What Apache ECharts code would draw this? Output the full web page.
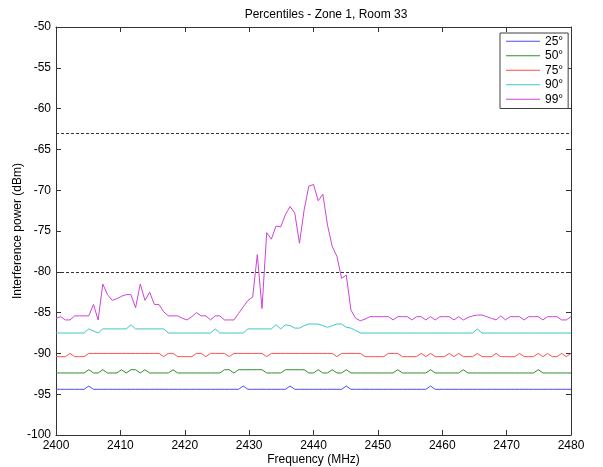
<!DOCTYPE html>
<html>
<head>
<meta charset="utf-8">
<script src="https://cdn.jsdelivr.net/npm/echarts@6/dist/echarts.min.js"></script>
<style>
  html, body { margin: 0; padding: 0; background: #fff; }
  #chart { width: 603px; height: 467px; }
</style>
</head>
<body>
<div id="chart"></div>
<script>
// Sweep frequencies (MHz), 111 bins across the 2.4 GHz band
const freqs = [
  2400, 2400.73, 2401.45, 2402.18, 2402.91, 2403.64, 2404.36, 2405.09, 2405.82, 2406.55, 2407.27,
  2408, 2408.73, 2409.45, 2410.18, 2410.91, 2411.64, 2412.36, 2413.09, 2413.82, 2414.55, 2415.27,
  2416, 2416.73, 2417.45, 2418.18, 2418.91, 2419.64, 2420.36, 2421.09, 2421.82, 2422.55, 2423.27,
  2424, 2424.73, 2425.45, 2426.18, 2426.91, 2427.64, 2428.36, 2429.09, 2429.82, 2430.55, 2431.27,
  2432, 2432.73, 2433.45, 2434.18, 2434.91, 2435.64, 2436.36, 2437.09, 2437.82, 2438.55, 2439.27,
  2440, 2440.73, 2441.45, 2442.18, 2442.91, 2443.64, 2444.36, 2445.09, 2445.82, 2446.55, 2447.27,
  2448, 2448.73, 2449.45, 2450.18, 2450.91, 2451.64, 2452.36, 2453.09, 2453.82, 2454.55, 2455.27,
  2456, 2456.73, 2457.45, 2458.18, 2458.91, 2459.64, 2460.36, 2461.09, 2461.82, 2462.55, 2463.27,
  2464, 2464.73, 2465.45, 2466.18, 2466.91, 2467.64, 2468.36, 2469.09, 2469.82, 2470.55, 2471.27,
  2472, 2472.73, 2473.45, 2474.18, 2474.91, 2475.64, 2476.36, 2477.09, 2477.82, 2478.55, 2479.27,
  2480
];

// Interference power percentiles (dBm), one value per bin
const p25 = [
  -94.4, -94.4, -94.4, -94.4, -94.4, -94.4, -94.4, -94.0, -94.4, -94.4, -94.4,
  -94.4, -94.4, -94.4, -94.4, -94.4, -94.4, -94.4, -94.4, -94.4, -94.4, -94.4,
  -94.4, -94.4, -94.4, -94.4, -94.4, -94.4, -94.4, -94.4, -94.4, -94.4, -94.4,
  -94.4, -94.4, -94.4, -94.4, -94.4, -94.4, -94.4, -94.0, -94.4, -94.4, -94.4,
  -94.4, -94.4, -94.4, -94.4, -94.4, -94.4, -94.0, -94.4, -94.4, -94.4, -94.4,
  -94.4, -94.4, -94.4, -94.4, -94.4, -94.4, -94.4, -94.0, -94.4, -94.4, -94.4,
  -94.4, -94.4, -94.4, -94.4, -94.4, -94.4, -94.4, -94.4, -94.4, -94.4, -94.4,
  -94.4, -94.4, -94.4, -94.0, -94.4, -94.4, -94.4, -94.4, -94.4, -94.4, -94.4,
  -94.4, -94.4, -94.4, -94.4, -94.4, -94.4, -94.4, -94.4, -94.4, -94.4, -94.4,
  -94.4, -94.4, -94.4, -94.4, -94.4, -94.4, -94.4, -94.4, -94.4, -94.4, -94.4,
  -94.4
];

const p50 = [
  -92.4, -92.4, -92.4, -92.4, -92.4, -92.4, -92.4, -92.0, -92.4, -92.4, -92.0,
  -92.4, -92.4, -92.4, -92.0, -92.4, -92.0, -92.0, -92.4, -92.0, -92.4, -92.4,
  -92.4, -92.4, -92.4, -92.0, -92.4, -92.4, -92.4, -92.4, -92.4, -92.4, -92.4,
  -92.4, -92.4, -92.4, -92.0, -92.0, -92.4, -92.0, -92.0, -92.0, -92.0, -92.0,
  -92.0, -92.4, -92.4, -92.4, -92.4, -92.0, -92.0, -92.0, -92.0, -92.0, -92.4,
  -92.4, -92.0, -92.4, -92.4, -92.0, -92.4, -92.4, -92.0, -92.4, -92.4, -92.4,
  -92.4, -92.4, -92.4, -92.4, -92.4, -92.4, -92.4, -92.0, -92.4, -92.4, -92.4,
  -92.4, -92.4, -92.4, -92.0, -92.4, -92.4, -92.4, -92.4, -92.4, -92.4, -92.0,
  -92.4, -92.4, -92.4, -92.4, -92.4, -92.4, -92.4, -92.4, -92.4, -92.4, -92.4,
  -92.4, -92.4, -92.4, -92.4, -92.0, -92.4, -92.4, -92.4, -92.4, -92.4, -92.4,
  -92.4
];

const p75 = [
  -90.4, -90.4, -90.4, -90.0, -90.4, -90.4, -90.4, -90.0, -90.0, -90.0, -90.0,
  -90.0, -90.0, -90.0, -90.0, -90.0, -90.0, -90.0, -90.0, -90.0, -90.0, -90.0,
  -90.0, -90.4, -90.0, -90.0, -90.4, -90.4, -90.4, -90.4, -90.0, -90.0, -90.4,
  -90.0, -90.0, -90.0, -90.0, -90.4, -90.0, -90.0, -90.0, -90.0, -90.0, -90.0,
  -90.0, -90.4, -90.0, -90.0, -90.0, -90.0, -90.0, -90.0, -90.0, -90.0, -90.0,
  -90.0, -90.0, -90.0, -90.0, -90.0, -90.4, -90.0, -90.0, -90.0, -90.0, -90.0,
  -90.4, -90.4, -90.4, -90.4, -90.4, -90.0, -90.0, -90.0, -90.4, -90.4, -90.4,
  -90.4, -90.0, -90.4, -90.0, -90.4, -90.4, -90.4, -90.0, -90.4, -90.0, -90.4,
  -90.4, -90.4, -90.0, -90.4, -90.4, -90.4, -90.0, -90.4, -90.4, -90.4, -90.4,
  -90.0, -90.4, -90.4, -90.4, -90.0, -90.4, -90.0, -90.4, -90.4, -90.0, -90.4,
  -90.0
];

const p90 = [
  -87.5, -87.5, -87.5, -87.5, -87.5, -87.5, -87.5, -87.0, -87.25, -87.5, -87.0,
  -87.0, -87.0, -87.0, -87.0, -87.0, -86.5, -87.0, -87.0, -87.0, -87.0, -87.0,
  -87.0, -87.0, -87.5, -87.5, -87.5, -87.5, -87.5, -87.5, -87.5, -87.5, -87.5,
  -87.5, -87.0, -87.5, -87.5, -87.5, -87.5, -87.5, -87.5, -87.0, -87.0, -87.0,
  -87.0, -87.0, -87.0, -86.5, -87.0, -86.5, -86.6, -86.9, -86.9, -86.6, -86.4,
  -86.4, -86.4, -86.6, -86.8, -86.6, -86.4, -86.4, -86.8, -86.9, -87.2, -87.5,
  -87.5, -87.5, -87.5, -87.5, -87.5, -87.5, -87.5, -87.5, -87.5, -87.5, -87.5,
  -87.5, -87.5, -87.5, -87.5, -87.5, -87.5, -87.5, -87.5, -87.5, -87.5, -87.5,
  -87.5, -87.5, -87.0, -87.5, -87.5, -87.5, -87.5, -87.5, -87.5, -87.5, -87.5,
  -87.5, -87.5, -87.5, -87.5, -87.5, -87.5, -87.5, -87.5, -87.5, -87.5, -87.5,
  -87.5
];

const p99 = [
  -85.7, -85.5, -85.9, -85.9, -85.4, -85.4, -85.4, -85.4, -84.0, -85.9, -81.5,
  -82.8, -83.5, -83.3, -83.0, -82.8, -82.8, -84.4, -81.5, -83.5, -82.5, -84.0,
  -84.0, -84.9, -85.4, -85.4, -85.4, -85.7, -85.9, -85.5, -85.0, -85.4, -85.4,
  -85.9, -85.4, -85.4, -85.9, -85.9, -85.9, -85.1, -84.3, -83.5, -83.1, -77.9,
  -84.5, -75.2, -76.0, -74.4, -74.5, -73.0, -72.0, -72.8, -76.5, -72.4, -69.5,
  -69.3, -71.3, -70.5, -74.3, -76.9, -78.1, -80.8, -80.4, -84.7, -85.7, -86.0,
  -85.8, -85.5, -85.5, -85.5, -85.5, -85.5, -85.9, -85.5, -85.5, -85.5, -85.9,
  -85.5, -85.5, -85.9, -85.5, -85.9, -85.5, -85.5, -85.5, -85.9, -85.5, -85.9,
  -85.6, -85.4, -85.3, -85.3, -85.5, -85.7, -85.9, -85.4, -85.9, -85.5, -85.5,
  -85.5, -85.9, -85.5, -85.5, -85.5, -85.9, -85.5, -85.5, -85.5, -85.9, -85.9,
  -85.5
];

const seriesNames = ['25\u00b0', '50\u00b0', '75\u00b0', '90\u00b0', '99\u00b0'];
const seriesValues = [p25, p50, p75, p90, p99];
const seriesColors = ['#4d4dff', '#2f8f2f', '#ff4d4d', '#3cc8c8', '#cc44d6'];

// Reference thresholds drawn as dashed lines (dBm)
const thresholds = [-63, -80];

const xTicks = { min: 2400, max: 2480, step: 10 };
const yTicks = { min: -100, max: -50, step: 5 };

const FONT = 'Liberation Sans, Arial, Helvetica, sans-serif';
const AXIS_COLOR = '#333333';

function axisBase(extra) {
  return Object.assign({
    type: 'value',
    splitLine: { show: false },
    nameMoveOverlap: false,
    axisLine: { show: true, onZero: false, lineStyle: { color: AXIS_COLOR, width: 1 } },
    axisTick: { show: true, inside: true, length: 5, lineStyle: { color: AXIS_COLOR, width: 1 } },
    axisLabel: {
      show: true, color: '#000', fontSize: 12, fontFamily: FONT, margin: 5,
      formatter: v => String(v)
    }
  }, extra);
}

const chart = echarts.init(document.getElementById('chart'), null, { renderer: 'canvas' });

const series = seriesNames.map((name, k) => {
  const s = {
    name: name,
    type: 'line',
    data: freqs.map((f, i) => [f, seriesValues[k][i]]),
    symbol: 'none',
    showSymbol: false,
    color: seriesColors[k],
    lineStyle: { color: seriesColors[k], width: 1 },
    itemStyle: { color: seriesColors[k] },
    emphasis: { disabled: true },
    silent: true,
    z: 3 + k
  };
  if (k === 0) {
    s.markLine = {
      silent: true,
      symbol: ['none', 'none'],
      label: { show: false },
      lineStyle: { color: '#333333', type: [3, 2], width: 1 },
      emphasis: { disabled: true },
      data: thresholds.map(v => ({ yAxis: v }))
    };
  }
  return s;
});

chart.setOption({
  animation: false,
  backgroundColor: '#ffffff',
  color: seriesColors,
  title: {
    text: 'Percentiles - Zone 1, Room 33',
    left: 321,
    top: 4,
    textAlign: 'center',
    textStyle: { fontSize: 12, fontWeight: 'normal', color: '#000', fontFamily: FONT }
  },
  legend: {
    orient: 'vertical',
    left: 500,
    top: 33,
    padding: [1, 5, 2, 6],
    itemWidth: 34,
    itemHeight: 1,
    itemGap: 0,
    backgroundColor: '#ffffff',
    borderColor: '#404040',
    borderWidth: 1,
    borderRadius: 0,
    selectedMode: false,
    textStyle: { fontSize: 12, lineHeight: 14.5, color: '#000', fontFamily: FONT },
    data: seriesNames.map((n, k) => ({
      name: n,
      icon: 'rect',
      itemStyle: { color: seriesColors[k], borderWidth: 0 }
    }))
  },
  grid: {
    left: 56, right: 32, top: 27, bottom: 32,
    containLabel: false,
    outerBoundsMode: 'none'
  },
  xAxis: [
    axisBase({
      min: xTicks.min, max: xTicks.max, interval: xTicks.step, position: 'bottom',
      name: 'Frequency (MHz)', nameLocation: 'middle', nameGap: 19,
      nameTextStyle: { fontSize: 12, color: '#000', fontFamily: FONT }
    }),
    axisBase({
      min: xTicks.min, max: xTicks.max, interval: xTicks.step, position: 'top',
      axisLabel: { show: false }
    })
  ],
  yAxis: [
    axisBase({
      min: yTicks.min, max: yTicks.max, interval: yTicks.step, position: 'left',
      name: 'Interference power (dBm)', nameLocation: 'middle', nameGap: 32,
      nameTextStyle: { fontSize: 12, color: '#000', fontFamily: FONT }
    }),
    axisBase({
      min: yTicks.min, max: yTicks.max, interval: yTicks.step, position: 'right',
      axisLabel: { show: false }
    })
  ],
  series: series
});
</script>
</body>
</html>
